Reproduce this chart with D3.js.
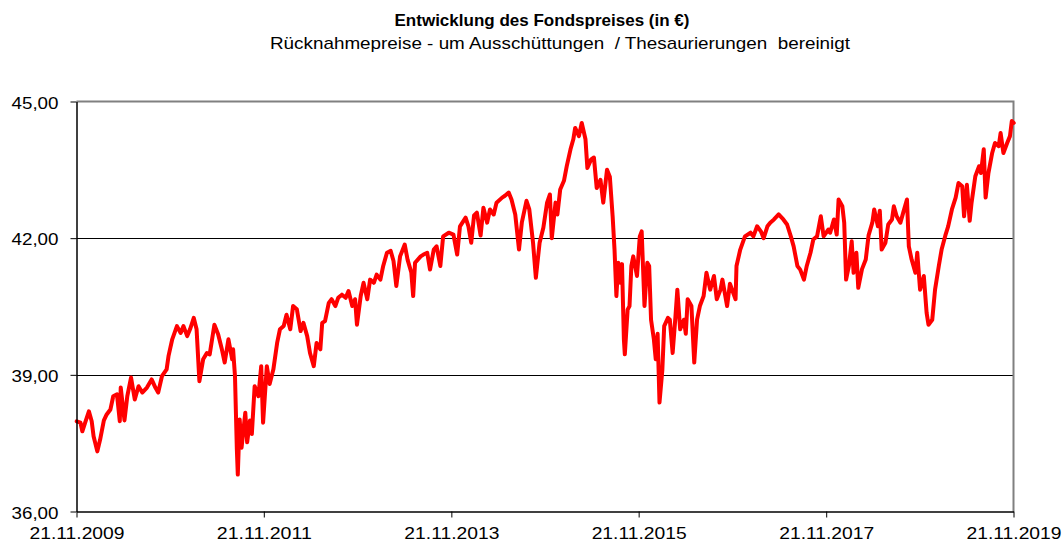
<!DOCTYPE html>
<html>
<head>
<meta charset="utf-8">
<script src="https://cdn.jsdelivr.net/npm/d3@7"></script>
<style>
  body { margin: 0; background: #fff; }
  text { font-family: "Liberation Sans", Arial, sans-serif; }
</style>
</head>
<body>
<div id="drawing"></div>
<script>
// chart text
const titleText = "Entwicklung des Fondspreises (in €)";
const subtitleText = "Rücknahmepreise - um Ausschüttungen  / Thesaurierungen  bereinigt";

// axis ticks
const xTickLabels = ["21.11.2009", "21.11.2011", "21.11.2013", "21.11.2015", "21.11.2017", "21.11.2019"];
const yTickValues = [36, 39, 42, 45];

// fund price, dates as decimal years
const dates = [
  2009.89, 2009.93, 2009.95, 2009.98, 2010.02, 2010.05, 2010.07, 2010.11, 2010.14, 2010.18,
  2010.21, 2010.25, 2010.28, 2010.32, 2010.35, 2010.36, 2010.40, 2010.43, 2010.47, 2010.51,
  2010.55, 2010.59, 2010.64, 2010.69, 2010.73, 2010.76, 2010.80, 2010.85, 2010.87, 2010.91,
  2010.96, 2011.00, 2011.03, 2011.07, 2011.10, 2011.14, 2011.17, 2011.20, 2011.24, 2011.28,
  2011.31, 2011.36, 2011.40, 2011.44, 2011.47, 2011.51, 2011.55, 2011.56, 2011.58, 2011.60,
  2011.61, 2011.63, 2011.65, 2011.69, 2011.71, 2011.74, 2011.76, 2011.79, 2011.83, 2011.86,
  2011.88, 2011.92, 2011.95, 2011.99, 2012.03, 2012.06, 2012.10, 2012.13, 2012.17, 2012.20,
  2012.24, 2012.28, 2012.31, 2012.35, 2012.38, 2012.42, 2012.45, 2012.49, 2012.51, 2012.54,
  2012.58, 2012.61, 2012.65, 2012.68, 2012.72, 2012.76, 2012.79, 2012.83, 2012.86, 2012.88,
  2012.92, 2012.95, 2012.99, 2013.02, 2013.06, 2013.09, 2013.13, 2013.16, 2013.20, 2013.24,
  2013.27, 2013.30, 2013.34, 2013.39, 2013.42, 2013.46, 2013.48, 2013.50, 2013.56, 2013.59,
  2013.63, 2013.66, 2013.70, 2013.73, 2013.77, 2013.80, 2013.86, 2013.91, 2013.95, 2013.98,
  2014.04, 2014.07, 2014.10, 2014.13, 2014.16, 2014.20, 2014.23, 2014.27, 2014.30, 2014.34,
  2014.37, 2014.43, 2014.46, 2014.50, 2014.53, 2014.57, 2014.61, 2014.64, 2014.69, 2014.72,
  2014.76, 2014.79, 2014.83, 2014.87, 2014.91, 2014.94, 2014.96, 2015.00, 2015.02, 2015.05,
  2015.09, 2015.12, 2015.16, 2015.19, 2015.21, 2015.25, 2015.28, 2015.32, 2015.34, 2015.38,
  2015.41, 2015.44, 2015.48, 2015.51, 2015.55, 2015.58, 2015.61, 2015.63, 2015.65, 2015.67,
  2015.69, 2015.71, 2015.73, 2015.74, 2015.77, 2015.79, 2015.81, 2015.83, 2015.87, 2015.90,
  2015.92, 2015.95, 2015.98, 2016.00, 2016.02, 2016.05, 2016.07, 2016.09, 2016.11, 2016.14,
  2016.16, 2016.20, 2016.22, 2016.25, 2016.28, 2016.30, 2016.33, 2016.37, 2016.39, 2016.41,
  2016.45, 2016.48, 2016.51, 2016.54, 2016.58, 2016.61, 2016.65, 2016.69, 2016.72, 2016.76,
  2016.78, 2016.83, 2016.86, 2016.92, 2016.93, 2016.97, 2017.02, 2017.08, 2017.11, 2017.15,
  2017.19, 2017.22, 2017.26, 2017.29, 2017.33, 2017.38, 2017.43, 2017.47, 2017.51, 2017.54,
  2017.58, 2017.61, 2017.65, 2017.68, 2017.72, 2017.75, 2017.79, 2017.83, 2017.86, 2017.91,
  2017.93, 2017.97, 2018.00, 2018.02, 2018.06, 2018.08, 2018.10, 2018.13, 2018.16, 2018.18,
  2018.21, 2018.23, 2018.27, 2018.31, 2018.34, 2018.38, 2018.40, 2018.44, 2018.46, 2018.48,
  2018.52, 2018.55, 2018.59, 2018.61, 2018.64, 2018.68, 2018.71, 2018.75, 2018.77, 2018.80,
  2018.84, 2018.86, 2018.89, 2018.93, 2018.96, 2018.98, 2019.02, 2019.05, 2019.09, 2019.12,
  2019.16, 2019.19, 2019.23, 2019.27, 2019.30, 2019.34, 2019.36, 2019.39, 2019.42, 2019.44,
  2019.48, 2019.52, 2019.54, 2019.57, 2019.59, 2019.62, 2019.66, 2019.69, 2019.73, 2019.75,
  2019.78, 2019.82, 2019.85, 2019.87, 2019.89
];
const prices = [
  37.98, 37.95, 37.76, 37.95, 38.20, 37.98, 37.65, 37.32, 37.58, 38.00,
  38.13, 38.24, 38.53, 38.57, 37.98, 38.72, 38.00, 38.53, 38.94, 38.46,
  38.75, 38.61, 38.72, 38.90, 38.72, 38.61, 38.97, 39.12, 39.41, 39.78,
  40.07, 39.92, 40.07, 39.85, 40.00, 40.25, 40.00, 38.86, 39.34, 39.48,
  39.45, 40.10, 39.89, 39.56, 39.27, 39.78, 39.34, 39.56, 38.97, 37.36,
  36.81, 38.02, 37.40, 38.17, 37.52, 38.00, 37.70, 38.75, 38.53, 39.19,
  37.95, 39.19, 38.80, 39.12, 39.70, 40.00, 40.07, 40.32, 40.00, 40.51,
  40.44, 39.96, 40.14, 39.85, 39.48, 39.19, 39.70, 39.56, 40.14, 40.18,
  40.58, 40.66, 40.51, 40.69, 40.76, 40.69, 40.84, 40.51, 40.66, 40.10,
  40.73, 41.02, 40.66, 41.09, 41.02, 41.20, 41.09, 41.39, 41.68, 41.72,
  41.50, 40.95, 41.60, 41.86, 41.53, 41.25, 40.73, 41.46, 41.60, 41.64,
  41.68, 41.31, 41.75, 41.82, 41.39, 42.04, 42.12, 42.08, 41.64, 42.26,
  42.45, 42.26, 41.90, 42.50, 42.56, 42.06, 42.67, 42.34, 42.63, 42.52,
  42.78, 42.89, 42.93, 43.00, 42.85, 42.52, 41.75, 42.34, 42.82, 42.63,
  41.90, 41.13, 41.90, 42.23, 42.78, 42.96, 42.00, 42.78, 42.52, 43.07,
  43.26, 43.58, 43.95, 44.17, 44.42, 44.24, 44.53, 44.17, 43.54, 43.73,
  43.77, 43.10, 43.28, 42.78, 43.50, 43.35, 42.48, 41.75, 40.73, 41.46,
  41.02, 41.43, 39.78, 39.45, 40.43, 40.51, 41.39, 41.60, 41.17, 42.04,
  42.15, 40.51, 41.46, 41.39, 40.21, 39.78, 39.34, 39.90, 38.39, 39.10,
  40.07, 40.25, 40.21, 39.48, 40.28, 40.87, 40.00, 40.21, 39.90, 40.66,
  40.51, 39.27, 40.21, 40.51, 40.73, 41.24, 40.87, 41.17, 40.66, 40.87,
  41.09, 40.51, 41.00, 40.66, 41.39, 41.75, 42.04, 42.12, 42.04, 42.26,
  42.15, 42.00, 42.26, 42.34, 42.41, 42.52, 42.41, 42.30, 42.04, 41.82,
  41.39, 41.31, 41.09, 41.39, 41.68, 41.97, 42.04, 42.48, 42.04, 42.19,
  42.12, 42.41, 42.08, 42.85, 42.70, 42.34, 41.09, 41.39, 41.93, 41.24,
  41.68, 40.91, 41.32, 41.53, 42.06, 42.34, 42.63, 42.26, 42.60, 41.75,
  41.90, 42.30, 42.41, 42.70, 42.48, 42.34, 42.56, 42.85, 41.82, 41.53,
  41.24, 41.68, 40.87, 41.17, 40.36, 40.10, 40.21, 40.87, 41.39, 41.75,
  42.06, 42.26, 42.63, 42.89, 43.21, 43.14, 42.48, 43.17, 42.38, 42.78,
  43.36, 43.58, 43.43, 43.95, 42.89, 43.43, 43.87, 44.09, 44.02, 44.31,
  43.87, 44.09, 44.24, 44.57, 44.53
];

const width = 1064;
const height = 543;
const plot = {left: 76.5, right: 1013.5, top: 101.5, bottom: 511.5};

const parseTick = d3.timeParse("%d.%m.%Y");
const formatTick = d3.timeFormat("%d.%m.%Y");
const deLocale = d3.formatLocale({decimal: ",", thousands: ".", grouping: [3], currency: ["", " €"]});

function fromDecimalYear(y){
  let yr = Math.floor(y);
  let start = new Date(yr, 0, 1);
  let end = new Date(yr + 1, 0, 1);
  return new Date(+start + (y - yr) * (end - start));
}

let series = dates.map((d, i) => ({date: fromDecimalYear(d), value: prices[i]}));
let xTicks = xTickLabels.map(parseTick);

let svg = d3.select("#drawing").append("svg")
  .attr("width", width)
  .attr("height", height);

let xScale = d3.scaleTime()
  .domain([xTicks[0], xTicks[xTicks.length - 1]])
  .range([plot.left, plot.right]);

let yScale = d3.scaleLinear()
  .domain([36, 45])
  .range([plot.bottom, plot.top]);

// titles
svg.append("text")
  .attr("x", 542).attr("y", 26)
  .attr("text-anchor", "middle")
  .style("font-size", "17px").style("font-weight", "bold")
  .attr("textLength", 295).attr("lengthAdjust", "spacingAndGlyphs")
  .text(titleText);

svg.append("text")
  .attr("x", 560).attr("y", 49)
  .attr("text-anchor", "middle")
  .style("font-size", "17px").style("white-space", "pre")
  .attr("textLength", 580).attr("lengthAdjust", "spacingAndGlyphs")
  .text(subtitleText);

// gridlines (inner)
svg.append("g")
  .selectAll("line")
  .data(yTickValues.filter(v => v > 36 && v < 45))
  .join("line")
  .attr("x1", plot.left).attr("x2", plot.right)
  .attr("y1", d => Math.round(yScale(d)) + 0.5)
  .attr("y2", d => Math.round(yScale(d)) + 0.5)
  .attr("stroke", "#000").attr("stroke-width", 1);

// grey frame top / right
svg.append("path")
  .attr("d", `M${plot.left},${plot.top}H${plot.right}V${plot.bottom}`)
  .attr("fill", "none").attr("stroke", "#808080").attr("stroke-width", 2);

// price line
let lineGenerator = d3.line()
  .x(d => xScale(d.date))
  .y(d => yScale(d.value));

svg.append("path")
  .attr("d", lineGenerator(series))
  .attr("fill", "none")
  .attr("stroke", "#ff0000")
  .attr("stroke-width", 4)
  .attr("stroke-linejoin", "round")
  .attr("stroke-linecap", "round");

// axes
let xAxis = svg.append("g")
  .attr("transform", `translate(0, ${plot.bottom})`)
  .call(d3.axisBottom(xScale).tickValues(xTicks).tickFormat(formatTick).tickSizeInner(6).tickSizeOuter(0).tickPadding(9));

let yAxis = svg.append("g")
  .attr("transform", `translate(${plot.left}, 0)`)
  .call(d3.axisLeft(yScale).tickValues(yTickValues).tickFormat(deLocale.format(".2f")).tickSizeInner(6).tickSizeOuter(0).tickPadding(12));

[xAxis, yAxis].forEach(ax => {
  ax.select(".domain").attr("stroke", "#000").attr("stroke-width", 1.5);
  ax.selectAll(".tick line").attr("stroke", "#000");
  ax.selectAll("text")
    .attr("fill", "#000")
    .style("font-family", '"Liberation Sans", Arial, sans-serif')
    .style("font-size", "17px")
    .attr("lengthAdjust", "spacingAndGlyphs");
});

xAxis.selectAll("text").attr("textLength", 95);
yAxis.selectAll("text").attr("textLength", 47).attr("dy", "0.4em");
</script>
</body>
</html>
